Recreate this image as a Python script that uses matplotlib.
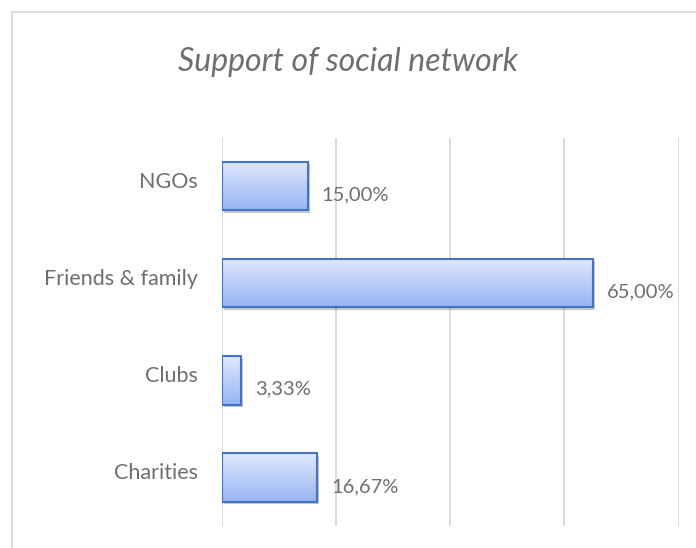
import numpy as np
import matplotlib
matplotlib.use("Agg")
import matplotlib.pyplot as plt
from matplotlib.patches import Rectangle
from matplotlib import transforms

categories = ["NGOs", "Friends & family", "Clubs", "Charities"]
values = [15.00, 65.00, 3.33, 16.67]
value_labels = ["15,00%", "65,00%", "3,33%", "16,67%"]
title = "Support of social network"

W, H = 696, 548
fig = plt.figure(figsize=(W / 100, H / 100), dpi=100)
fig.patch.set_facecolor("white")

# chart border (extends beyond image on right / bottom)
border = Rectangle((11.5 / W, -0.1), 1.2, 1 - 12 / H + 0.1, transform=fig.transFigure,
                   fill=False, edgecolor="#d9d9d9", linewidth=1.3)
fig.patches.append(border)

ax = fig.add_axes([222 / W, 1 - 526 / H, (678.5 - 222) / W, (526 - 137.5) / H])
n = len(categories)
ypos = np.arange(n)

ax.set_xticks([0, 20, 40, 60, 80])
ax.xaxis.grid(True, color="#d9d9d9", linewidth=1.3)
ax.set_axisbelow(True)
ax.tick_params(axis="x", length=0, labelbottom=False)
ax.tick_params(axis="y", length=0, labelleft=False)
for s in ax.spines.values():
    s.set_visible(False)
ax.set_yticks(ypos)

text_color = "#6e6e6e"
bh = 0.5
shadow_tr = transforms.offset_copy(ax.transData, fig=fig, x=2.0, y=-2.5, units="dots")
grad = np.linspace(0, 1, 256).reshape(-1, 1)
top_c = np.array([0xe0, 0xe9, 0xfc]) / 255
bot_c = np.array([0x98, 0xb4, 0xf4]) / 255
grad_img = top_c[None, None, :] * (1 - grad[:, :, None]) + bot_c[None, None, :] * grad[:, :, None]

for i, v in enumerate(values):
    y0 = ypos[i] - bh / 2
    sh = Rectangle((0, y0), v, bh, transform=shadow_tr, facecolor="#000000",
                   alpha=0.22, edgecolor="none", zorder=2)
    ax.add_patch(sh)
    ax.barh(ypos[i], v, height=bh, color="none", edgecolor="#4472c4",
            linewidth=1.5, zorder=4)
    im = ax.imshow(grad_img, extent=(0, v, ypos[i] + bh / 2, y0), aspect="auto",
                   zorder=3, origin="upper", interpolation="bilinear")
    clip = Rectangle((0, y0), v, bh, transform=ax.transData)
    im.set_clip_path(clip)
    ax.annotate(value_labels[i], (v, ypos[i]), xytext=(14, -9), textcoords="offset pixels",
                ha="left", va="center", fontsize=14.5, color=text_color, family="Lato",
                zorder=5, annotation_clip=False)
    ax.annotate(categories[i], (0, ypos[i]), xytext=(-24, 4), textcoords="offset pixels",
                ha="right", va="center", fontsize=15.5, color=text_color, family="Lato",
                annotation_clip=False)

ax.set_xlim(0, 80)
ax.set_ylim(n - 0.5, -0.5)

fig.text(348 / W, 1 - 62 / H, title, ha="center", va="center", fontsize=23,
         color=text_color, family="Lato", style="italic")

fig.savefig("out.png", dpi=100)
